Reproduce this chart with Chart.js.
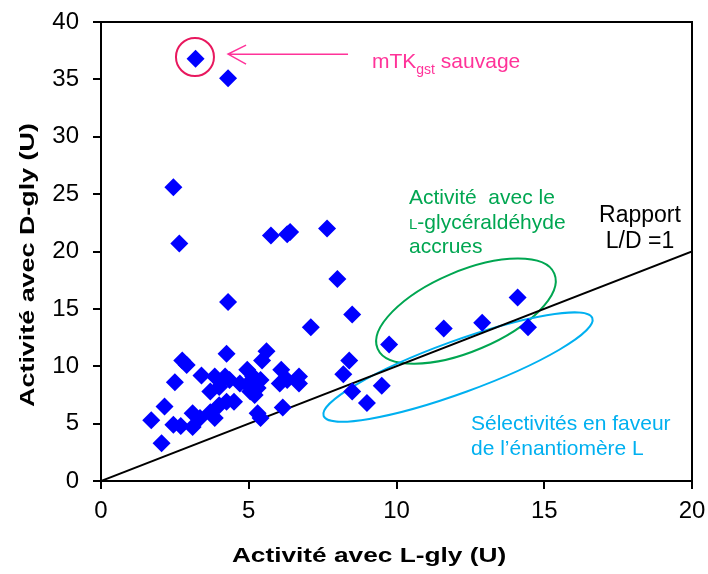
<!DOCTYPE html>
<html lang="fr">
<head>
<meta charset="UTF-8">
<title>Activité L-gly / D-gly</title>
<script src="https://cdn.jsdelivr.net/npm/chart.js"></script>
<style>
  body { margin: 0; background: #fff; }
  #wrap { width: 708px; height: 574px; }
</style>
</head>
<body>
<div id="wrap"><canvas id="chart" width="708" height="574"></canvas></div>
<script>
// activité avec L-gly (x) et D-gly (y), une valeur par variant
const lGly = [3.2, 4.3, 2.45, 2.65, 5.75, 6.3, 6.4, 7.65, 8.0, 4.3, 7.1, 8.5, 14.1, 11.6, 12.9, 14.45,
  9.75, 8.4, 8.2, 8.5, 9.5, 9.0, 2.75, 2.9, 4.25, 5.6, 5.45, 2.5, 3.4, 3.85, 4.2, 4.35, 3.7, 4.0,
  4.95, 5.15, 5.4, 4.95, 5.3, 6.1, 6.3, 6.7, 6.7, 6.05, 2.15, 1.7, 2.45, 2.7, 2.05, 3.1, 3.35, 3.1,
  3.7, 3.85, 4.25, 4.5, 4.0, 5.3, 5.4, 6.15, 5.05, 5.2, 4.7];
const dGly = [36.8, 35.1, 25.6, 20.7, 21.4, 21.5, 21.7, 22.0, 17.6, 15.6, 13.4, 14.5, 16.0, 13.3, 13.8, 13.4,
  11.9, 10.5, 9.3, 7.8, 8.3, 6.8, 10.5, 10.1, 11.1, 11.3, 10.5, 8.6, 9.2, 9.1, 9.1, 8.8, 7.8, 8.2,
  9.7, 9.1, 8.8, 8.4, 8.1, 9.7, 8.8, 9.1, 8.5, 8.5, 6.5, 5.3, 4.9, 4.8, 3.3, 5.9, 5.5, 4.7,
  6.0, 5.5, 6.9, 6.9, 6.6, 5.9, 5.5, 6.4, 7.8, 7.5, 8.5];
// droite L/D = 1
const ratioLine = [0, 20];

const font = '"Liberation Sans", Arial, sans-serif';

const points = lGly.map((x, i) => ({ x: x, y: dGly[i] }));

// texte étiré en largeur, comme dans la figure d'origine
function wideText(ctx, text, x, y, stretch) {
  ctx.save();
  ctx.translate(x, y);
  ctx.scale(stretch, 1);
  ctx.fillText(text, 0, 0);
  ctx.restore();
}

const extras = {
  id: 'extras',
  beforeDatasetsDraw(chart) {
    const ctx = chart.ctx;
    const xs = chart.scales.x, ys = chart.scales.y;
    ctx.save();
    ctx.lineWidth = 2;
    // ellipse verte
    ctx.strokeStyle = '#00a651';
    ctx.beginPath();
    ctx.ellipse(xs.getPixelForValue(12.35), ys.getPixelForValue(14.8), 96, 40, -23 * Math.PI / 180, 0, 2 * Math.PI);
    ctx.stroke();
    // ellipse bleue
    ctx.strokeStyle = '#00b0f0';
    ctx.beginPath();
    ctx.ellipse(xs.getPixelForValue(12.08), ys.getPixelForValue(9.93), 143, 26, -20 * Math.PI / 180, 0, 2 * Math.PI);
    ctx.stroke();
    ctx.restore();
  },
  afterDraw(chart) {
    const ctx = chart.ctx;
    const a = chart.chartArea;
    const xs = chart.scales.x, ys = chart.scales.y;
    ctx.save();
    // cadre haut / droite
    ctx.strokeStyle = '#000';
    ctx.lineWidth = 2;
    ctx.beginPath();
    ctx.moveTo(a.left, a.top);
    ctx.lineTo(a.right, a.top);
    ctx.lineTo(a.right, a.bottom);
    ctx.stroke();

    // cercle + flèche mTKgst
    const cx = xs.getPixelForValue(3.18), cy = ys.getPixelForValue(36.95);
    ctx.strokeStyle = '#e8185e';
    ctx.lineWidth = 2;
    ctx.beginPath();
    ctx.arc(cx, cy, 19, 0, 2 * Math.PI);
    ctx.stroke();
    const ay = ys.getPixelForValue(37.2);
    const tipX = xs.getPixelForValue(4.3), endX = xs.getPixelForValue(8.36);
    ctx.strokeStyle = '#ff3399';
    ctx.lineWidth = 1.5;
    ctx.beginPath();
    ctx.moveTo(endX, ay);
    ctx.lineTo(tipX, ay);
    ctx.moveTo(tipX + 18, ay - 9);
    ctx.lineTo(tipX, ay);
    ctx.lineTo(tipX + 18, ay + 10);
    ctx.stroke();

    ctx.textBaseline = 'alphabetic';
    ctx.fillStyle = '#ff3399';
    let tx = 372;
    ctx.font = '21px ' + font;
    ctx.fillText('mTK', tx, 68);
    tx += ctx.measureText('mTK').width;
    ctx.font = '14px ' + font;
    ctx.fillText('gst', tx, 74);
    tx += ctx.measureText('gst').width;
    ctx.font = '21px ' + font;
    ctx.fillText(' sauvage', tx, 68);

    // texte vert
    ctx.fillStyle = '#00a651';
    ctx.font = '21px ' + font;
    ctx.fillText('Activité  avec le', 409, 204);
    ctx.font = '15px ' + font;
    ctx.fillText('L', 409, 229);
    let gx = 409 + ctx.measureText('L').width;
    ctx.font = '21px ' + font;
    ctx.fillText('-glycéraldéhyde', gx, 229);
    ctx.fillText('accrues', 409, 253);

    // rapport
    ctx.fillStyle = '#000';
    ctx.font = '23px ' + font;
    ctx.textAlign = 'center';
    ctx.fillText('Rapport', 640, 222);
    ctx.fillText('L/D =1', 640, 248);

    // texte bleu
    ctx.fillStyle = '#00b0f0';
    ctx.textAlign = 'left';
    ctx.font = '21px ' + font;
    ctx.fillText('Sélectivités en faveur', 471, 430);
    ctx.fillText('de l\u2019énantiomère L', 471, 455);

    // titres des axes
    ctx.fillStyle = '#000';
    ctx.font = 'bold 21px ' + font;
    ctx.textAlign = 'center';
    ctx.textBaseline = 'alphabetic';
    wideText(ctx, 'Activité avec L-gly (U)', 369, 562, 1.25);
    ctx.translate(34, 265);
    ctx.rotate(-Math.PI / 2);
    wideText(ctx, 'Activité avec D-gly (U)', 0, 0, 1.28);
    ctx.restore();
  }
};

new Chart(document.getElementById('chart'), {
  type: 'scatter',
  data: {
    datasets: [
      {
        label: 'Variants',
        data: points,
        pointStyle: 'rectRot',
        pointRadius: 9,
        pointHoverRadius: 9,
        backgroundColor: '#0000ff',
        borderWidth: 0,
        order: 0
      },
      {
        label: 'L/D = 1',
        type: 'line',
        data: ratioLine.map(v => ({ x: v, y: v })),
        borderColor: '#000',
        borderWidth: 2,
        pointRadius: 0,
        fill: false,
        order: 1
      }
    ]
  },
  options: {
    responsive: false,
    animation: false,
    layout: { padding: { top: 22, right: 16, left: 0, bottom: 0 } },
    plugins: { legend: { display: false }, tooltip: { enabled: false } },
    scales: {
      x: {
        type: 'linear', min: 0, max: 20,
        ticks: { stepSize: 5, color: '#000', font: { family: font, size: 24 }, padding: 8 },
        grid: { display: true, drawOnChartArea: false, drawTicks: true, tickLength: 8, color: '#000', lineWidth: 2 },
        border: { display: true, color: '#000', width: 2 },
        afterFit(scale) { scale.height = 93; scale.paddingLeft = 0; scale.paddingRight = 0; }
      },
      y: {
        type: 'linear', min: 0, max: 40,
        ticks: { stepSize: 5, color: '#000', font: { family: font, size: 24 }, padding: 14 },
        grid: { display: true, drawOnChartArea: false, drawTicks: true, tickLength: 8, color: '#000', lineWidth: 2 },
        border: { display: true, color: '#000', width: 2 },
        afterFit(scale) { scale.width = 101; scale.paddingTop = 0; scale.paddingBottom = 0; }
      }
    }
  },
  plugins: [extras]
});
</script>
</body>
</html>
